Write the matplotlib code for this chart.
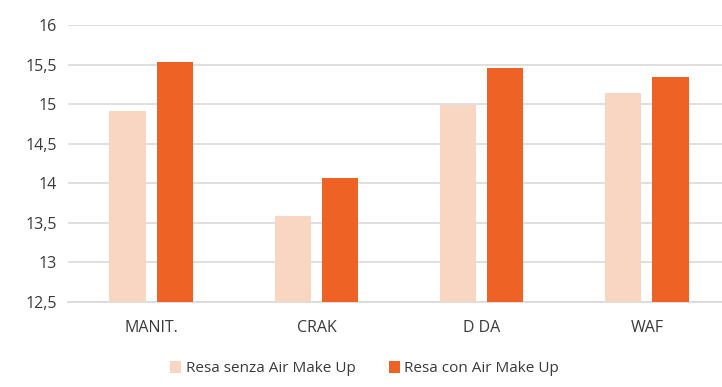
import numpy as np
import matplotlib
matplotlib.use("Agg")
import matplotlib.pyplot as plt

categories = ["MANIT.", "CRAK", "D DA", "WAF"]
senza = [14.92, 13.59, 14.99, 15.14]
con = [15.53, 14.07, 15.46, 15.34]
series_names = ["Resa senza Air Make Up", "Resa con Air Make Up"]

plt.rcParams['font.family'] = ['Open Sans', 'DejaVu Sans']

fig = plt.figure(figsize=(7.22, 3.87), dpi=100)
ax = fig.add_axes([0.094, 0.22, 0.906, 0.715])

x = np.arange(len(categories))
w = 0.22
ax.bar(x - 0.143, senza, w, color='#F9D6C2', label=series_names[0], zorder=3)
ax.bar(x + 0.143, con, w, color='#EE6325', label=series_names[1], zorder=3)

ax.set_ylim(12.5, 16)
ax.set_xlim(-0.505, 3.455)
ticks = np.arange(12.5, 16.01, 0.5)
ax.set_yticks(ticks)
ax.set_yticklabels([f"{t:g}".replace('.', ',') for t in ticks])
ax.set_xticks(x)
ax.set_xticklabels(categories)
ax.tick_params(axis='both', length=0, labelsize=11.5, colors='#3A3A3A')
ax.tick_params(axis='x', pad=13)
ax.tick_params(axis='y', pad=8)
ax.grid(axis='y', color='#D9D9D9', linewidth=1.2, zorder=0)
for s in ['top', 'right', 'left']:
    ax.spines[s].set_visible(False)
ax.spines['bottom'].set_color('#D9D9D9')
ax.spines['bottom'].set_linewidth(1.2)

fig.legend(loc='center', bbox_to_anchor=(0.505, 0.048), ncol=2, frameon=False,
           fontsize=11, handlelength=0.7, handleheight=0.9, handletextpad=0.3,
           columnspacing=2.2, labelcolor='#3A3A3A')

fig.savefig("out.png", dpi=100)
